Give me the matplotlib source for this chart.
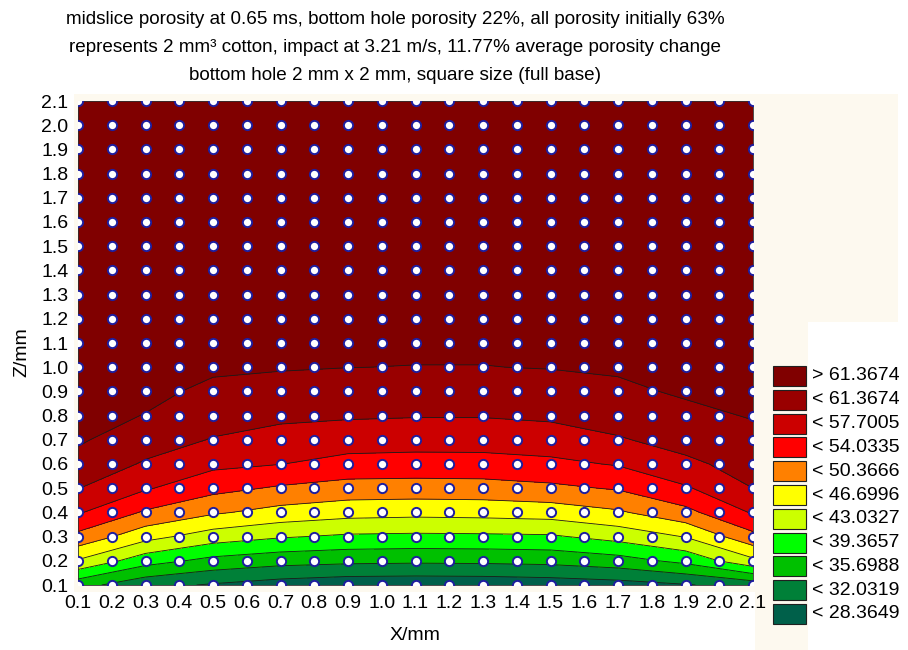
import matplotlib
matplotlib.use("Agg")
import numpy as np
import matplotlib.pyplot as plt
from matplotlib.patches import Rectangle

x_cols = [0.1, 0.3, 0.5, 0.7, 0.9, 1.1, 1.3, 1.5, 1.7, 1.9, 2.1]
z_rows = [0.1, 0.2, 0.3, 0.4, 0.5, 0.6, 0.7, 0.8, 0.9, 1.0, 1.1,
          1.2, 1.3, 1.4, 1.5, 1.6, 1.7, 1.8, 1.9, 2.0, 2.1]
porosity = [
    [33.4, 29.5, 28.0, 26.7, 25.9, 25.8, 25.9, 26.3, 26.9, 28.1, 29.9],
    [42.7, 37.2, 34.6, 33.4, 32.9, 32.7, 32.8, 33.1, 34.2, 36.7, 42.2],
    [49.3, 44.3, 41.2, 39.7, 38.8, 38.6, 38.7, 38.9, 40.7, 43.2, 49.3],
    [54.4, 49.9, 47.2, 45.4, 44.4, 44.1, 44.3, 44.7, 46.2, 49.3, 54.4],
    [57.8, 54.4, 51.5, 49.9, 48.9, 48.8, 48.9, 49.6, 50.7, 53.6, 57.7],
    [60.2, 57.3, 54.9, 54.1, 52.8, 52.6, 52.7, 53.2, 54.3, 57.0, 59.0],
    [61.8, 59.4, 57.5, 56.4, 55.7, 55.5, 55.5, 56.0, 57.4, 58.9, 60.3],
    [62.1, 61.3, 59.2, 58.4, 58.1, 57.9, 57.9, 58.3, 59.1, 60.5, 61.6],
    [62.3, 61.9, 60.9, 60.2, 59.8, 59.7, 59.7, 59.9, 60.7, 61.8, 62.0],
    [62.4, 62.2, 61.7, 61.6, 61.4, 61.3, 61.3, 61.5, 61.8, 62.1, 62.2],
    [62.5, 62.4, 62.1, 62.0, 62.0, 62.0, 62.0, 62.1, 62.2, 62.3, 62.4],
    [62.6, 62.5, 62.4, 62.4, 62.4, 62.4, 62.4, 62.4, 62.5, 62.5, 62.5],
    [62.7, 62.6, 62.6, 62.6, 62.6, 62.6, 62.6, 62.6, 62.6, 62.6, 62.6],
    [62.8, 62.7, 62.7, 62.7, 62.7, 62.7, 62.7, 62.7, 62.7, 62.7, 62.7],
    [62.8, 62.8, 62.8, 62.8, 62.8, 62.8, 62.8, 62.8, 62.8, 62.8, 62.8],
    [62.9, 62.9, 62.9, 62.9, 62.9, 62.9, 62.9, 62.9, 62.9, 62.9, 62.9],
    [62.9, 62.9, 62.9, 62.9, 62.9, 62.9, 62.9, 62.9, 62.9, 62.9, 62.9],
    [63.0, 63.0, 63.0, 63.0, 63.0, 63.0, 63.0, 63.0, 63.0, 63.0, 63.0],
    [63.0, 63.0, 63.0, 63.0, 63.0, 63.0, 63.0, 63.0, 63.0, 63.0, 63.0],
    [63.0, 63.0, 63.0, 63.0, 63.0, 63.0, 63.0, 63.0, 63.0, 63.0, 63.0],
    [63.0, 63.0, 63.0, 63.0, 63.0, 63.0, 63.0, 63.0, 63.0, 63.0, 63.0],
]

levels = [28.3649, 32.0319, 35.6988, 39.3657, 43.0327,
          46.6996, 50.3666, 54.0335, 57.7005, 61.3674]
band_colors = ['#00604a', '#008038', '#00c000', '#00ff00', '#ccff00',
               '#ffff00', '#ff8000', '#ff0000', '#cc0000', '#990000', '#800000']
legend_labels = ['> 61.3674', '< 61.3674', '< 57.7005', '< 54.0335', '< 50.3666',
                 '< 46.6996', '< 43.0327', '< 39.3657', '< 35.6988', '< 32.0319',
                 '< 28.3649']
node_ticks = [0.1, 0.2, 0.3, 0.4, 0.5, 0.6, 0.7, 0.8, 0.9, 1.0, 1.1,
              1.2, 1.3, 1.4, 1.5, 1.6, 1.7, 1.8, 1.9, 2.0, 2.1]
title_lines = ['midslice porosity at 0.65 ms, bottom hole porosity 22%, all porosity initially 63%',
               'represents 2 mm\u00b3 cotton, impact at 3.21 m/s, 11.77% average porosity change',
               'bottom hole 2 mm x 2 mm, square size (full base)']

plt.rcParams['font.family'] = ['Liberation Sans Narrow', 'Liberation Sans', 'DejaVu Sans']
W, H = 908, 650
fig = plt.figure(figsize=(W / 100, H / 100), dpi=100)
fig.patch.set_facecolor('white')

def px_rect(x0, y0, x1, y1, color):
    # rectangle given in picture pixels (top-left origin)
    fig.patches.append(Rectangle((x0 / W, 1 - y1 / H), (x1 - x0) / W, (y1 - y0) / H,
                                 transform=fig.transFigure, facecolor=color,
                                 edgecolor='none', zorder=-10))

cream = '#fdf9ef'
px_rect(74, 94, 898, 322, cream)
px_rect(74, 94, 808, 592, cream)
px_rect(755, 94, 808, 650, cream)

ax = fig.add_axes([78 / W, 1 - 585 / H, 675 / W, 484 / H])
ax.set_zorder(1)
X, Z = np.meshgrid(x_cols, z_rows)
P = np.array(porosity)
bounds = [0] + levels + [100]
ax.contourf(X, Z, P, levels=bounds, colors=band_colors)
ax.contour(X, Z, P, levels=levels, colors='#1a1a1a', linewidths=0.6)

gx, gz = np.meshgrid(node_ticks, node_ticks)
ax.scatter(gx.ravel(), gz.ravel(), s=44, facecolor='white', edgecolor='#1e1e9e',
           linewidths=1.4, zorder=3)

ax.set_xlim(0.1, 2.1)
ax.set_ylim(0.1, 2.1)
ax.set_xticks(node_ticks)
ax.set_xticklabels(['%.1f' % v for v in node_ticks])
ax.set_yticks(node_ticks)
ax.set_yticklabels(['%.1f' % v for v in node_ticks])
ax.tick_params(direction='in', length=3, width=0.5, labelsize=14)
ax.tick_params(axis='x', pad=7)
ax.tick_params(axis='y', pad=7)
for s in ax.spines.values():
    s.set_linewidth(0.6)
    s.set_color('#303030')

fig.text(415 / W, 1 - 636 / H, 'X/mm', ha='center', va='center', fontsize=14)
fig.text(22 / W, 1 - 352 / H, 'Z/mm', ha='center', va='center', fontsize=14,
         rotation=90)

for i, line in enumerate(title_lines):
    fig.text(395 / W, 1 - (19 + 28.5 * i) / H, line, ha='center', va='center',
             fontsize=13.6)

# legend boxes
for i, (c, lab) in enumerate(zip(band_colors[::-1], legend_labels)):
    yc = 376 + 23.8 * i
    fig.patches.append(Rectangle((773 / W, 1 - (yc + 10) / H), 33 / W, 20 / H,
                                 transform=fig.transFigure, facecolor=c,
                                 edgecolor='#202020', linewidth=0.8, zorder=2))
    fig.text(812 / W, 1 - yc / H, lab, ha='left', va='center', fontsize=14)

fig.savefig('out.png', dpi=100)
